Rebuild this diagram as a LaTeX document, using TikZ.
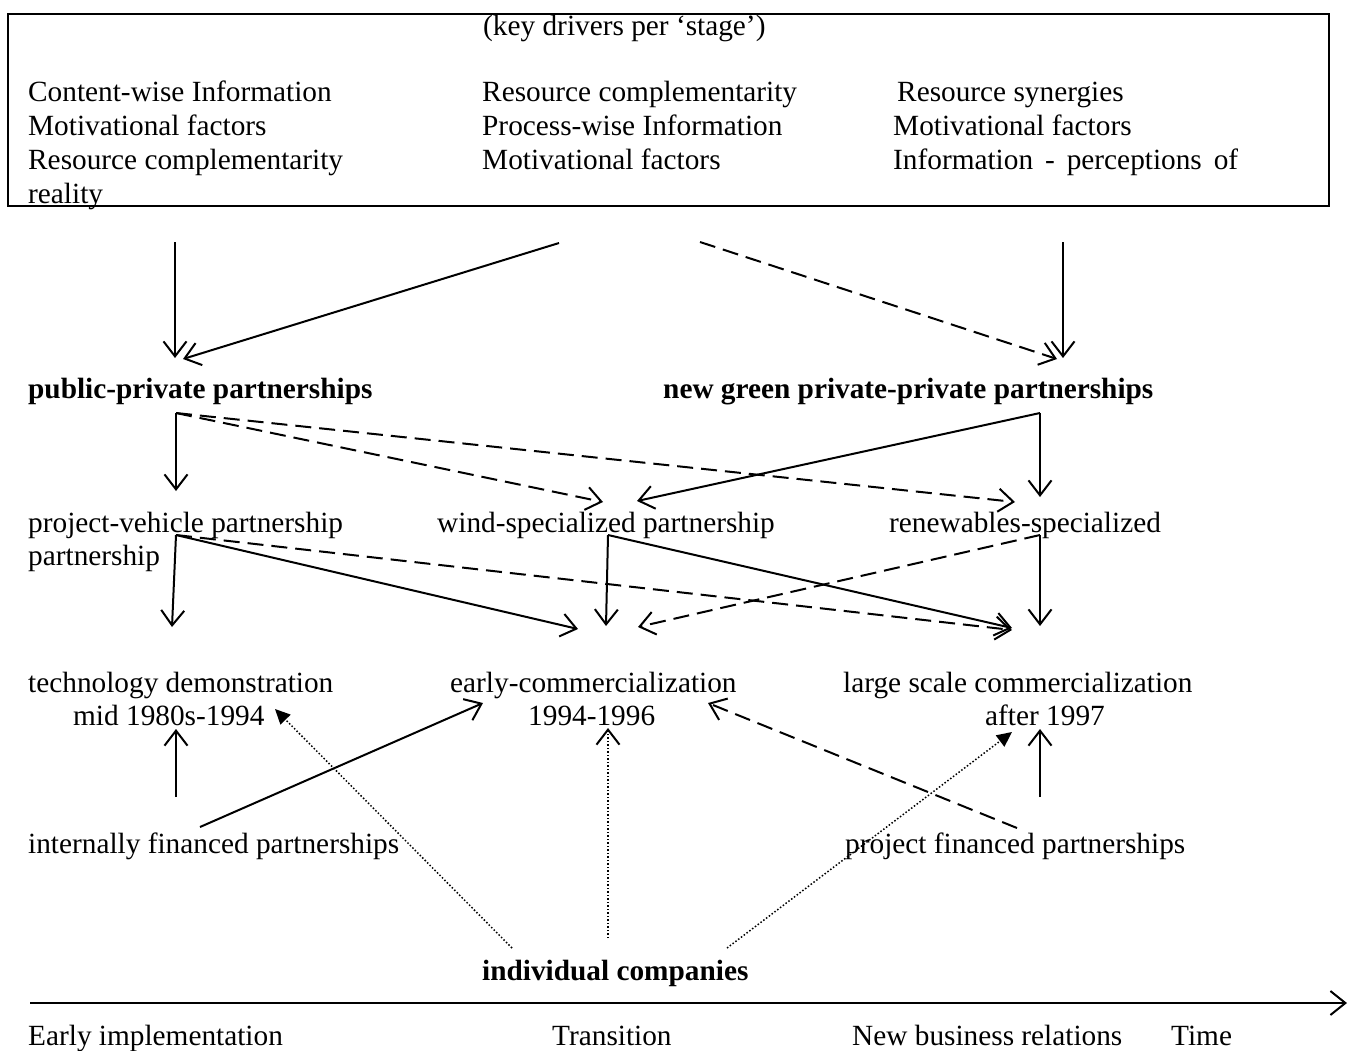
\documentclass[tikz,border=0pt]{standalone}
\usepackage{fontspec}
\setmainfont{Liberation Serif}
\usetikzlibrary{arrows.meta}
\begin{document}
\begin{tikzpicture}[x=1pt,y=-1pt,
  lbl/.style={anchor=base west,inner sep=0pt,font=\fontsize{29.3}{34}\selectfont},
  bld/.style={lbl,font=\fontsize{29.3}{34}\selectfont\bfseries},
  conn/.style={line width=2pt},
  barb/.style={-{Straight Barb[length=15pt,width=23pt,line width=2pt]}},
  solidarr/.style={conn,barb},
  dasharr/.style={conn,barb,dash pattern=on 16pt off 8pt},
  dotarr/.style={line width=1.5pt,dash pattern=on 1.5pt off 2pt,
    -{Straight Barb[length=15pt,width=23pt,line width=2pt]}},
  dotfill/.style={line width=1.5pt,dash pattern=on 1.5pt off 2pt,
    -{Triangle[length=15pt,width=14pt]}}]
\useasboundingbox (0,0) rectangle (1356,1050);

% drivers box
\draw[line width=2.4pt] (8,14) rectangle (1329,206);
\node[lbl] (title) at (483,35) {(key drivers per ‘stage’)};
\node[lbl] (c1a) at (28,101) {Content-wise Information};
\node[lbl] (c1b) at (28,135) {Motivational factors};
\node[lbl] (c1c) at (28,169) {Resource complementarity};
\node[lbl] (c1d) at (28,203) {reality};
\node[lbl] (c2a) at (482,101) {Resource complementarity};
\node[lbl] (c2b) at (482,135) {Process-wise Information};
\node[lbl] (c2c) at (482,169) {Motivational factors};
\node[lbl] (c3a) at (897,101) {Resource synergies};
\node[lbl] (c3b) at (893,135) {Motivational factors};
\node[lbl] (c3c) at (893,169) {\makebox[345pt][s]{Information - perceptions of}};

% partnership levels
\node[bld] (ppp) at (28,398) {public-private partnerships};
\node[bld] (ngp) at (663,398) {new green private-private partnerships};
\node[lbl] (pv) at (28,532) {project-vehicle partnership};
\node[lbl] (pv2) at (28,565) {partnership};
\node[lbl] (ws) at (437,532) {wind-specialized partnership};
\node[lbl] (rs) at (889,532) {renewables-specialized};

% stages
\node[lbl] (td) at (28,692) {technology demonstration};
\node[lbl] (td2) at (73,725) {mid 1980s-1994};
\node[lbl] (ec) at (450,692) {early-commercialization};
\node[lbl] (ec2) at (528,725) {1994-1996};
\node[lbl] (lc) at (843,692) {large scale commercialization};
\node[lbl] (lc2) at (985,725) {after 1997};

% financing and companies
\node[lbl] (if) at (28,853) {internally financed partnerships};
\node[lbl] (pf) at (845,853) {project financed partnerships};
\node[bld] (ic) at (482,980) {individual companies};

% time axis labels
\node[lbl] (t1) at (28,1045) {Early implementation};
\node[lbl] (t2) at (552,1045) {Transition};
\node[lbl] (t3) at (852,1045) {New business relations};
\node[lbl] (t4) at (1171,1045) {Time};

% connector end points
\coordinate (d1) at (175,242);   \coordinate (ppp-t1) at (175,358);
\coordinate (d2) at (559,243);   \coordinate (ppp-t2) at (183,359);
\coordinate (d3) at (700,242);   \coordinate (ngp-t1) at (1057,359);
\coordinate (d4) at (1063,242);  \coordinate (ngp-t2) at (1063,358);

\coordinate (ppp-b) at (176,413);
\coordinate (pv-t) at (176,491);
\coordinate (ws-t1) at (603,502);
\coordinate (rs-t1) at (1015,502);
\coordinate (ngp-b) at (1040,413);
\coordinate (ws-t2) at (637,501);
\coordinate (rs-t2) at (1040,497);

\coordinate (pv-b) at (176,535);
\coordinate (td-t) at (172,627);
\coordinate (ec-t1) at (578,629);
\coordinate (lc-t1) at (1012,630);
\coordinate (ws-b) at (608,535);
\coordinate (ec-t2) at (606,626);
\coordinate (lc-t2) at (1012,628);
\coordinate (rs-b) at (1040,535);
\coordinate (ec-t3) at (638,627);
\coordinate (lc-t3) at (1040,626);

\coordinate (if-t) at (176,797);  \coordinate (td-b1) at (176,729);
\coordinate (if-r) at (200,827);  \coordinate (ec-b1) at (483,703);
\coordinate (ic-l) at (512,948);  \coordinate (td-b2) at (275,709);
\coordinate (ic-m) at (608,938);  \coordinate (ec-b2) at (608,728);
\coordinate (ic-r) at (727,948);  \coordinate (lc-b1) at (1012,732);
\coordinate (pf-l) at (1017,828); \coordinate (ec-b3) at (708,703);
\coordinate (pf-t) at (1040,797); \coordinate (lc-b2) at (1040,729);

\coordinate (tl-s) at (30,1003);  \coordinate (tl-e) at (1347,1003);

% drivers to partnership types
\draw[solidarr] (d1) -- (ppp-t1);
\draw[solidarr] (d2) -- (ppp-t2);
\draw[dasharr] (d3) -- (ngp-t1);
\draw[solidarr] (d4) -- (ngp-t2);

% partnership types to partnership forms
\draw[solidarr] (ppp-b) -- (pv-t);
\draw[dasharr] (ppp-b) -- (ws-t1);
\draw[dasharr] (ppp-b) -- (rs-t1);
\draw[solidarr] (ngp-b) -- (ws-t2);
\draw[solidarr] (ngp-b) -- (rs-t2);

% partnership forms to stages
\draw[solidarr] (pv-b) -- (td-t);
\draw[solidarr] (pv-b) -- (ec-t1);
\draw[dasharr] (pv-b) -- (lc-t1);
\draw[solidarr] (ws-b) -- (ec-t2);
\draw[solidarr] (ws-b) -- (lc-t2);
\draw[dasharr] (rs-b) -- (ec-t3);
\draw[solidarr] (rs-b) -- (lc-t3);

% financing and companies to stages
\draw[solidarr] (if-t) -- (td-b1);
\draw[solidarr] (if-r) -- (ec-b1);
\draw[dotfill] (ic-l) -- (td-b2);
\draw[dotarr] (ic-m) -- (ec-b2);
\draw[dotfill] (ic-r) -- (lc-b1);
\draw[dasharr] (pf-l) -- (ec-b3);
\draw[solidarr] (pf-t) -- (lc-b2);

% time axis
\draw[line width=2.2pt,-{Straight Barb[length=15pt,width=24pt,line width=2pt]}] (tl-s) -- (tl-e);
\end{tikzpicture}
\end{document}
